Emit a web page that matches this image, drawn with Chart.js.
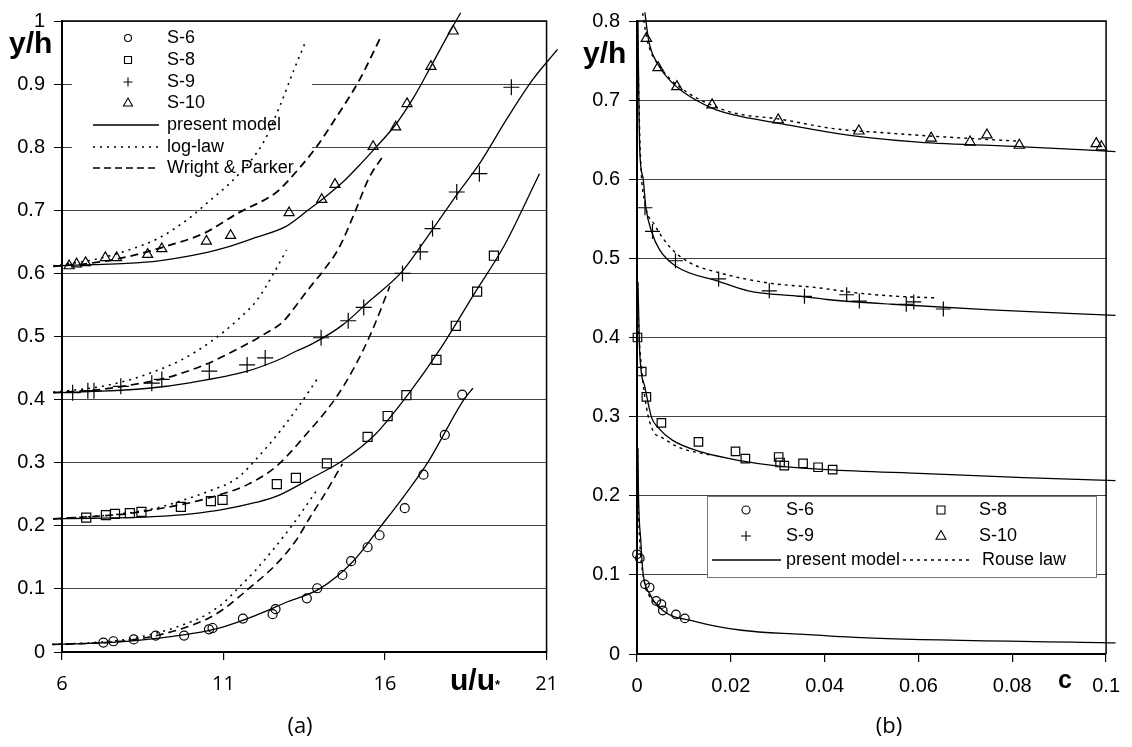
<!DOCTYPE html>
<html>
<head>
<meta charset="utf-8">
<script src="https://cdn.jsdelivr.net/npm/chart.js@4.4.1/dist/chart.umd.min.js"></script>
<style>
  html, body { margin: 0; padding: 0; background: #fff; }
  #wrap { position: relative; width: 1132px; height: 747px; overflow: hidden; }
  canvas { position: absolute; top: 0; }
  #ca { left: 0; }
  #cb { left: 570px; }
</style>
</head>
<body>
<div id="wrap">
  <canvas id="ca" width="570" height="747" style="width:570px;height:747px"></canvas>
  <canvas id="cb" width="562" height="747" style="width:562px;height:747px"></canvas>
</div>
<script>
// ---- panel (a): y/h against u/u* ----
const aXTicks = [6, 11, 16, 21];
const aYTicks = [0, 0.1, 0.2, 0.3, 0.4, 0.5, 0.6, 0.7, 0.8, 0.9, 1];
const aYLabels = ['0', '0.1', '0.2', '0.3', '0.4', '0.5', '0.6', '0.7', '0.8', '0.9', '1'];

// measured points
const aS6 = [[7.28,0.015],[7.59,0.017],[8.22,0.020],[8.90,0.026],[9.78,0.026],[10.55,0.036],[10.66,0.038],[11.60,0.053],[12.52,0.060],[12.61,0.068],[13.58,0.085],[13.90,0.101],[14.68,0.122],[14.95,0.144],[15.46,0.166],[15.83,0.185],[16.61,0.228],[17.19,0.281],[17.85,0.344],[18.39,0.408]];
const aS8 = [[6.75,0.213],[7.36,0.217],[7.64,0.219],[8.10,0.220],[8.46,0.222],[9.68,0.230],[10.61,0.239],[10.97,0.241],[12.65,0.266],[13.24,0.276],[14.20,0.299],[15.46,0.341],[16.08,0.374],[16.66,0.407],[17.59,0.463],[18.19,0.517],[18.85,0.571],[19.37,0.628]];
const aS9 = [[6.33,0.411],[6.80,0.414],[6.99,0.414],[7.82,0.421],[8.78,0.426],[9.09,0.432],[10.56,0.445],[11.73,0.455],[12.29,0.466],[14.02,0.498],[14.86,0.525],[15.34,0.546],[16.54,0.600],[17.09,0.634],[17.47,0.671],[18.22,0.729],[18.92,0.758],[19.91,0.895]];
const aS10 = [[6.22,0.612],[6.45,0.615],[6.73,0.617],[7.34,0.625],[7.69,0.625],[8.65,0.630],[9.09,0.639],[10.47,0.651],[11.22,0.660],[13.03,0.696],[14.04,0.717],[14.45,0.741],[15.63,0.801],[16.33,0.832],[16.68,0.869],[17.42,0.928],[18.11,0.984]];

// present model
const aS6Model = [[5.7,0.012],[7,0.014],[8,0.017],[9,0.022],[10,0.029],[11,0.040],[12,0.058],[13,0.080],[13.97,0.100],[15,0.143],[15.88,0.200],[16.6,0.248],[17.32,0.300],[18.44,0.400],[18.72,0.418]];
const aS8Model = [[5.73,0.211],[7,0.212],[8,0.213],[9,0.215],[10,0.219],[11,0.226],[12,0.237],[12.65,0.247],[13.66,0.274],[14.68,0.303],[15.70,0.345],[16.71,0.408],[17.73,0.482],[18.74,0.566],[19.7,0.645],[20.78,0.758]];
const aS9Model = [[5.73,0.411],[7,0.413],[8.68,0.418],[10,0.427],[11.73,0.445],[12.65,0.462],[13.26,0.477],[13.77,0.489],[14.68,0.518],[15.49,0.555],[16.51,0.602],[17.42,0.666],[18.24,0.726],[18.95,0.776],[19.76,0.844],[20.57,0.907],[21.34,0.955]];
const aS10Model = [[5.73,0.612],[7,0.614],[8,0.616],[9,0.620],[10,0.628],[11,0.640],[12,0.657],[12.95,0.675],[13.66,0.702],[14.07,0.718],[14.68,0.744],[15.29,0.776],[15.70,0.799],[16.30,0.834],[16.91,0.881],[17.42,0.928],[17.93,0.976],[18.34,1.013]];

// log-law
const aS6Log = [[5.7,0.012],[7,0.015],[8,0.020],[9,0.031],[10,0.048],[10.5,0.060],[11,0.078],[11.43,0.100],[12,0.130],[12.5,0.160],[13.2,0.206],[13.87,0.255]];
const aS8Log = [[5.73,0.211],[7,0.215],[8,0.220],[9,0.229],[9.7,0.240],[10.5,0.254],[11.43,0.276],[12.14,0.313],[12.75,0.350],[13.36,0.392],[13.92,0.434]];
const aS9Log = [[5.73,0.412],[7,0.419],[8,0.430],[8.78,0.443],[9.7,0.463],[10.61,0.492],[11.43,0.526],[12.04,0.558],[12.55,0.600],[12.95,0.637]];
const aS10Log = [[5.73,0.612],[7,0.622],[8,0.636],[9,0.656],[10,0.690],[10.41,0.708],[11.43,0.755],[12.24,0.808],[12.75,0.866],[13.16,0.920],[13.53,0.966]];

// Wright & Parker
const aS6WP = [[5.7,0.012],[7,0.014],[8,0.018],[9,0.027],[10,0.042],[10.55,0.054],[11,0.068],[11.77,0.100],[12.65,0.140],[13.26,0.178],[13.66,0.212],[14.07,0.245],[14.68,0.298]];
const aS8WP = [[5.73,0.211],[7,0.215],[8,0.219],[9,0.227],[10,0.237],[10.6,0.245],[11.77,0.266],[12.65,0.295],[13.56,0.345],[14.48,0.403],[15.09,0.455],[15.59,0.508],[16.15,0.580]];
const aS9WP = [[5.73,0.411],[7,0.415],[8,0.422],[9.19,0.434],[10.41,0.455],[11.43,0.480],[12.24,0.503],[12.85,0.524],[13.26,0.550],[13.66,0.577],[14.1,0.605],[14.57,0.640],[15.09,0.700],[15.49,0.750],[15.95,0.787]];
const aS10WP = [[5.73,0.611],[7,0.617],[8,0.626],[9.09,0.641],[10.41,0.664],[11.43,0.695],[12.65,0.729],[12.95,0.744],[13.87,0.800],[14.37,0.838],[15.19,0.905],[15.9,0.978]];

// ---- panel (b): y/h against c ----
const bXTicks = [0, 0.02, 0.04, 0.06, 0.08, 0.1];
const bXLabels = ['0', '0.02', '0.04', '0.06', '0.08', '0.1'];
const bYTicks = [0, 0.1, 0.2, 0.3, 0.4, 0.5, 0.6, 0.7, 0.8];
const bYLabels = ['0', '0.1', '0.2', '0.3', '0.4', '0.5', '0.6', '0.7', '0.8'];

const bS6 = [[0.0,0.126],[0.0006,0.121],[0.0017,0.088],[0.0027,0.084],[0.0041,0.067],[0.0052,0.063],[0.0055,0.055],[0.0083,0.050],[0.0102,0.045]];
const bS8 = [[0.0001,0.400],[0.0010,0.357],[0.0020,0.325],[0.0052,0.292],[0.0131,0.268],[0.0210,0.256],[0.0231,0.247],[0.0302,0.249],[0.0305,0.242],[0.0314,0.238],[0.0354,0.241],[0.0386,0.236],[0.0417,0.233]];
const bS9 = [[0.0017,0.564],[0.0033,0.534],[0.0082,0.497],[0.0174,0.474],[0.0282,0.459],[0.0357,0.452],[0.0447,0.454],[0.0474,0.446],[0.0574,0.442],[0.0590,0.445],[0.0653,0.436]];
const bS10 = [[0.0020,0.778],[0.0045,0.741],[0.0085,0.717],[0.0160,0.694],[0.0301,0.675],[0.0473,0.661],[0.0627,0.652],[0.0710,0.647],[0.0746,0.656],[0.0815,0.643],[0.0979,0.645],[0.0990,0.641]];

const bS6Model = [[0.0002,0.26],[0.0003,0.207],[0.0008,0.144],[0.0013,0.102],[0.0027,0.076],[0.0055,0.055],[0.0125,0.041],[0.0223,0.030],[0.0349,0.025],[0.0503,0.020],[0.102,0.014]];
const bS8Model = [[0.0002,0.47],[0.0004,0.42],[0.0006,0.379],[0.0017,0.337],[0.0031,0.299],[0.0045,0.286],[0.0076,0.270],[0.0139,0.255],[0.0223,0.244],[0.0293,0.238],[0.0405,0.233],[0.0614,0.228],[0.0824,0.223],[0.102,0.219]];
const bS9Model = [[0.0002,0.80],[0.0004,0.698],[0.0006,0.635],[0.0013,0.601],[0.0019,0.564],[0.0031,0.534],[0.0048,0.511],[0.0083,0.490],[0.0174,0.471],[0.0237,0.459],[0.0349,0.452],[0.0405,0.448],[0.0544,0.442],[0.0754,0.435],[0.102,0.428]];
const bS10Model = [[0.00168,0.811],[0.0025,0.775],[0.0045,0.745],[0.0070,0.725],[0.0097,0.711],[0.016,0.690],[0.0209,0.681],[0.030,0.671],[0.0405,0.660],[0.0489,0.653],[0.060,0.647],[0.0824,0.641],[0.102,0.635]];

const bS6Rouse = [[0.0001,0.26],[0.0002,0.21],[0.0006,0.14],[0.0013,0.10],[0.0025,0.075],[0.004,0.064],[0.0055,0.057]];
const bS8Rouse = [[0.0001,0.47],[0.0003,0.42],[0.001,0.36],[0.002,0.312],[0.0034,0.282],[0.0052,0.274],[0.009,0.261],[0.016,0.251]];
const bS9Rouse = [[0.0001,0.80],[0.0004,0.70],[0.0008,0.62],[0.0017,0.57],[0.0038,0.542],[0.0069,0.515],[0.0111,0.495],[0.0174,0.482],[0.0279,0.469],[0.0384,0.463],[0.0474,0.456],[0.0558,0.452],[0.0642,0.450]];
const bS10Rouse = [[0.0012,0.81],[0.0022,0.775],[0.0052,0.740],[0.009,0.717],[0.0174,0.690],[0.023,0.681],[0.0293,0.677],[0.0419,0.664],[0.0544,0.658],[0.0614,0.655],[0.0698,0.652],[0.0817,0.648]];

const FONT = "'Liberation Sans', Arial, sans-serif";
const SOLID = [];
const DOTS = [2, 5];
const DASH = [8, 5];
const ROUSE = [3, 4];

const pts = arr => arr.map(([x, y]) => ({ x, y }));

function curve(arr, dash, width) {
  return {
    data: pts(arr), showLine: true, pointRadius: 0, borderColor: '#000',
    borderWidth: width, borderDash: dash, cubicInterpolationMode: 'monotone',
    fill: false, clip: false
  };
}

function marks(arr, style, r) {
  return {
    data: pts(arr), showLine: false, pointStyle: style, pointRadius: r,
    borderColor: '#000', backgroundColor: 'rgba(0,0,0,0)', pointBorderWidth: 1.2, clip: false
  };
}

// small marker for the legends
function mark(ctx, style, x, y, r) {
  ctx.beginPath();
  if (style === 'circle') ctx.arc(x, y, r, 0, Math.PI * 2);
  else if (style === 'rect') ctx.rect(x - r, y - r, 2 * r, 2 * r);
  else if (style === 'cross') { ctx.moveTo(x - r, y); ctx.lineTo(x + r, y); ctx.moveTo(x, y - r); ctx.lineTo(x, y + r); }
  else if (style === 'triangle') { ctx.moveTo(x, y - r); ctx.lineTo(x + r * 0.9, y + r * 0.6); ctx.lineTo(x - r * 0.9, y + r * 0.6); ctx.closePath(); }
  ctx.stroke();
}

function sample(ctx, x1, x2, y, dash) {
  ctx.beginPath();
  ctx.setLineDash(dash);
  ctx.moveTo(x1, y);
  ctx.lineTo(x2, y);
  ctx.stroke();
  ctx.setLineDash([]);
}

function frame(chart) {
  const { ctx, chartArea: a } = chart;
  ctx.save();
  ctx.strokeStyle = '#000';
  ctx.lineWidth = 1.5;
  ctx.beginPath();
  ctx.moveTo(a.left, a.top);
  ctx.lineTo(a.right, a.top);
  ctx.lineTo(a.right, a.bottom);
  ctx.stroke();
  ctx.restore();
}

function axes(xMin, xMax, xTicks, xLabels, xFont, yMax, yTicks, yLabels, yWidth) {
  return {
    x: {
      type: 'linear', min: xMin, max: xMax,
      afterBuildTicks: s => { s.ticks = xTicks.map(v => ({ value: v })); },
      afterFit: s => { s.height = 60; },
      ticks: { color: '#000', font: xFont, padding: 12, maxRotation: 0, callback: (v, i) => xLabels[i] },
      grid: { drawOnChartArea: false, drawTicks: true, tickLength: 8, color: '#000', lineWidth: 1.2 },
      border: { color: '#000', width: 2 }
    },
    y: {
      type: 'linear', min: 0, max: yMax,
      afterBuildTicks: s => { s.ticks = yTicks.map(v => ({ value: v })); },
      afterFit: s => { s.width = yWidth; },
      ticks: { color: '#000', font: { family: FONT, size: 20 }, padding: 9, callback: (v, i) => yLabels[i] },
      grid: { color: '#444', lineWidth: 1, tickLength: 8, tickColor: '#000' },
      border: { color: '#000', width: 2 }
    }
  };
}

Chart.defaults.font.family = FONT;

// ---------- panel (a) ----------
const panelA = {
  id: 'panelA',
  beforeDatasetsDraw(chart) {
    const ctx = chart.ctx;
    ctx.save();
    ctx.fillStyle = '#fff';
    ctx.fillRect(72, 24, 240, 162);
    ctx.strokeStyle = '#000';
    ctx.fillStyle = '#000';
    ctx.lineWidth = 1.1;
    ctx.font = '18px ' + FONT;
    ctx.textBaseline = 'middle';
    const rows = [38, 60, 82, 103, 125, 147, 168];
    mark(ctx, 'circle', 128, rows[0], 3.5);
    mark(ctx, 'rect', 128, rows[1], 3.5);
    mark(ctx, 'cross', 128, rows[2], 4.5);
    mark(ctx, 'triangle', 128, rows[3], 5);
    ctx.lineWidth = 1.4;
    sample(ctx, 93, 159, rows[4], SOLID);
    sample(ctx, 93, 159, rows[5], DOTS);
    sample(ctx, 93, 159, rows[6], [7, 4]);
    ['S-6', 'S-8', 'S-9', 'S-10', 'present model', 'log-law', 'Wright & Parker']
      .forEach((t, i) => ctx.fillText(t, 167, rows[i]));
    ctx.restore();
  },
  afterDraw(chart) {
    frame(chart);
    const ctx = chart.ctx;
    ctx.save();
    ctx.fillStyle = '#000';
    ctx.textBaseline = 'alphabetic';
    ctx.font = 'bold 30px ' + FONT;
    ctx.fillText('y/h', 9, 53);
    ctx.fillText('u/u', 450, 690);
    ctx.font = 'bold 13px ' + FONT;
    ctx.fillText('*', 495, 689);
    ctx.font = "22px 'Open Sans', sans-serif";
    ctx.textAlign = 'center';
    ctx.textBaseline = 'middle';
    ctx.fillText('(a)', 300, 727);
    ctx.restore();
  }
};

new Chart(document.getElementById('ca'), {
  type: 'scatter',
  data: {
    datasets: [
      marks(aS6, 'circle', 4.5), marks(aS8, 'rect', 6.4), marks(aS9, 'cross', 8), marks(aS10, 'triangle', 5.8),
      curve(aS6Model, SOLID, 1.3), curve(aS8Model, SOLID, 1.3), curve(aS9Model, SOLID, 1.3), curve(aS10Model, SOLID, 1.3),
      curve(aS6Log, DOTS, 1.6), curve(aS8Log, DOTS, 1.6), curve(aS9Log, DOTS, 1.6), curve(aS10Log, DOTS, 1.6),
      curve(aS6WP, DASH, 1.6), curve(aS8WP, DASH, 1.6), curve(aS9WP, DASH, 1.7), curve(aS10WP, DASH, 1.8)
    ]
  },
  options: {
    responsive: false, animation: false, events: [],
    layout: { padding: { left: 0, top: 18, right: 16, bottom: 35 } },
    plugins: { legend: { display: false }, tooltip: { enabled: false } },
    scales: axes(6, 21, aXTicks, aXTicks.map(String), { family: "'Open Sans', sans-serif", size: 20 },
      1, aYTicks, aYLabels, 62)
  },
  plugins: [panelA]
});

// ---------- panel (b) ----------
const OX = 570; // canvas offset of panel (b)
const panelB = {
  id: 'panelB',
  afterDatasetsDraw(chart) {
    const ctx = chart.ctx;
    ctx.save();
    ctx.fillStyle = '#fff';
    ctx.fillRect(707 - OX, 496, 389, 81);
    ctx.strokeStyle = '#777';
    ctx.lineWidth = 1;
    ctx.strokeRect(707.5 - OX, 496.5, 389, 81);
    ctx.strokeStyle = '#000';
    ctx.fillStyle = '#000';
    ctx.lineWidth = 1.1;
    ctx.font = '18px ' + FONT;
    ctx.textBaseline = 'middle';
    mark(ctx, 'circle', 746 - OX, 510, 4);
    mark(ctx, 'rect', 941 - OX, 510, 4);
    mark(ctx, 'cross', 746 - OX, 536, 5);
    mark(ctx, 'triangle', 941 - OX, 536, 5.5);
    ctx.lineWidth = 1.4;
    sample(ctx, 712 - OX, 781 - OX, 560, SOLID);
    sample(ctx, 903 - OX, 972 - OX, 560, [3, 4]);
    ctx.fillText('S-6', 786 - OX, 510);
    ctx.fillText('S-9', 786 - OX, 536);
    ctx.fillText('present model', 786 - OX, 560);
    ctx.fillText('S-8', 979 - OX, 510);
    ctx.fillText('S-10', 979 - OX, 536);
    ctx.fillText('Rouse law', 982 - OX, 560);
    ctx.restore();
  },
  afterDraw(chart) {
    frame(chart);
    const ctx = chart.ctx;
    ctx.save();
    ctx.fillStyle = '#000';
    ctx.textBaseline = 'alphabetic';
    ctx.font = 'bold 30px ' + FONT;
    ctx.fillText('y/h', 583 - OX, 63);
    ctx.font = 'bold 25px ' + FONT;
    ctx.fillText('c', 1058 - OX, 688);
    ctx.font = "22px 'Open Sans', sans-serif";
    ctx.textAlign = 'center';
    ctx.textBaseline = 'middle';
    ctx.fillText('(b)', 889 - OX, 727);
    ctx.restore();
  }
};

new Chart(document.getElementById('cb'), {
  type: 'scatter',
  data: {
    datasets: [
      marks(bS6, 'circle', 4.3), marks(bS8, 'rect', 6), marks(bS9, 'cross', 7.5), marks(bS10, 'triangle', 6),
      curve(bS6Model, SOLID, 1.3), curve(bS8Model, SOLID, 1.3), curve(bS9Model, SOLID, 1.3), curve(bS10Model, SOLID, 1.3),
      curve(bS6Rouse, ROUSE, 1.4), curve(bS8Rouse, ROUSE, 1.4), curve(bS9Rouse, ROUSE, 1.4), curve(bS10Rouse, ROUSE, 1.4)
    ]
  },
  options: {
    responsive: false, animation: false, events: [],
    layout: { padding: { left: 0, top: 19, right: 18, bottom: 33 } },
    plugins: { legend: { display: false }, tooltip: { enabled: false } },
    scales: axes(0, 0.1, bXTicks, bXLabels, { family: FONT, size: 20 },
      0.8, bYTicks, bYLabels, 67)
  },
  plugins: [panelB]
});
</script>
</body>
</html>
